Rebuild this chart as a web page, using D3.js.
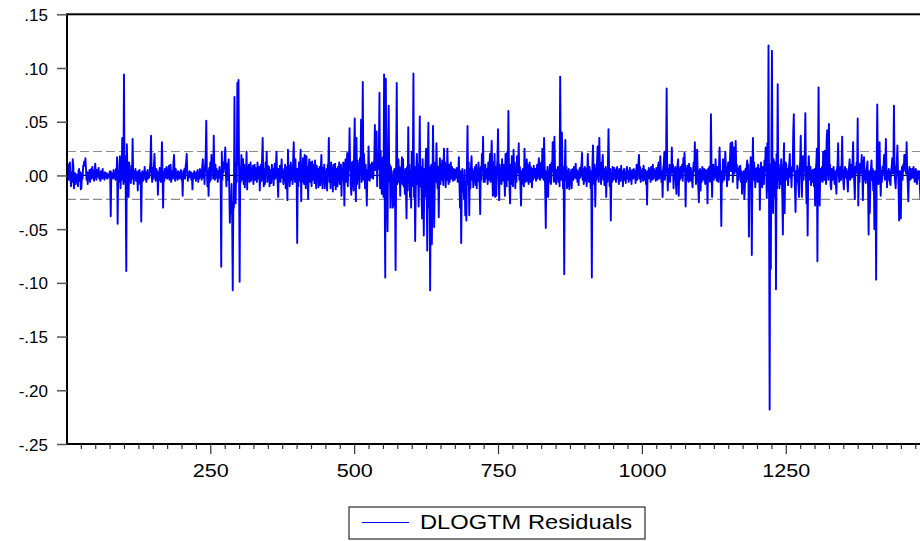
<!DOCTYPE html>
<html>
<head>
<meta charset="utf-8">
<script src="https://cdn.jsdelivr.net/npm/d3@7"></script>
<style>
  html, body { margin: 0; padding: 0; background: #fff; overflow: hidden; }
  text { font-family: "Liberation Sans", Arial, sans-serif; fill: #000; }
</style>
</head>
<body>
<svg id="chart" width="920" height="541"></svg>
<script>
// Regression residuals of DLOGTM, one value per observation (1 .. 1485)
const residuals = [
  .008,.011,.004,-.004,.007,.012,-.003,-.010,.003,-.006,.015,.009,-.012,-.004,.002,-.008,.001,-.002,.000,-.010,.004,.006,-.005,.003,-.013,
  -.012,.002,-.003,.008,.010,.013,.009,.016,.006,-.004,.003,-.008,.002,-.002,.005,-.006,.001,.006,-.003,.008,-.002,.004,-.005,.003,.011,
  .002,-.004,.005,-.001,.003,.007,-.003,.002,-.005,.004,.001,-.003,.006,-.002,.000,-.004,.003,-.001,-.002,.002,-.003,.001,-.002,-.001,.003,
  .004,-.038,.003,-.002,.001,-.003,.005,-.001,.002,-.004,.006,-.002,.017,-.045,.004,-.006,.010,.018,-.012,.008,-.004,.035,.012,-.008,.094,
  -.006,.018,-.012,-.089,.029,.006,-.010,-.020,.012,-.004,.004,-.007,.009,-.003,.034,.002,-.008,.004,-.002,.006,-.005,.003,.001,-.014,.004,
  -.002,.005,-.008,.002,-.043,-.003,.004,-.005,.002,-.001,.008,-.004,.003,-.006,.001,.005,-.003,.002,-.002,.006,.012,.037,.004,-.006,.007,
  -.003,.009,.020,.003,-.005,.006,-.002,.004,-.018,.002,-.004,.007,.000,-.006,.005,.031,.002,-.030,.003,-.005,.006,-.002,.004,.008,-.003,
  .005,-.002,.009,-.004,.003,.010,-.006,.004,.001,-.003,.012,.019,.003,-.005,.006,-.001,.002,-.004,.004,.000,-.003,.003,-.002,.005,-.004,
  .001,-.019,.004,-.002,.006,-.003,.008,.012,.020,.003,-.005,.002,-.002,.004,-.001,.003,-.004,.002,-.013,.001,-.003,.004,-.002,.002,-.005,
  .003,-.002,.005,-.006,.002,-.003,.006,-.001,.004,-.004,.008,.015,-.002,.005,-.008,.010,.018,.051,.006,-.010,.004,-.019,.007,-.006,.012,
  -.004,.019,.008,.015,-.003,.037,.006,-.004,.010,-.002,.006,.003,-.006,.004,-.002,.008,.002,-.005,-.085,.022,-.004,.012,.003,.010,.015,
  .026,.004,-.010,.011,-.004,.006,.015,-.012,-.044,-.020,-.035,-.008,-.038,-.107,-.025,-.030,.073,-.010,-.026,.012,-.006,.086,.010,.089,.004,
  -.099,.008,-.006,.019,.011,-.004,.015,-.008,.010,-.011,.006,-.003,.022,-.013,.008,-.002,.010,-.006,.004,.012,-.005,.006,-.003,.009,-.008,
  .004,.010,-.004,.007,.002,-.006,.012,.005,-.003,.008,-.014,.003,.010,-.005,.015,.035,.001,-.010,.006,-.008,.012,.004,.022,-.006,.009,
  -.004,.008,-.010,.005,.001,-.007,.010,-.002,.006,-.009,.004,.011,-.003,.008,.022,.002,-.005,-.020,.006,-.003,.009,-.006,.004,.015,-.002,
  .006,-.008,.003,-.005,.010,-.012,.004,.008,-.023,.024,-.006,.009,-.010,.003,.012,-.004,.006,-.008,.014,.031,.002,-.006,.015,-.004,.006,
  -.063,.006,-.010,.012,-.005,.008,.024,-.024,.010,-.006,.016,.004,-.008,.019,.002,-.012,.018,-.004,.008,-.022,.006,.015,-.006,.012,.003,
  -.010,.013,.002,-.004,.010,-.007,.014,.003,-.012,.009,-.002,.006,-.011,.004,.008,-.009,.005,.019,.002,-.012,.007,-.004,.010,-.012,.004,
  -.008,.006,-.014,.010,.004,.035,-.006,.009,-.012,.012,-.004,.007,-.015,.010,.003,-.009,.011,-.013,.006,.001,-.010,.008,-.005,.012,-.008,
  .004,.010,-.019,.006,-.004,.012,.003,-.028,.008,.015,-.006,.010,.021,-.010,.014,.006,.044,.010,-.008,-.018,.012,-.010,.013,-.014,.025,
  .053,.004,-.024,.035,-.008,.014,-.004,.010,-.012,.016,.002,.052,-.006,.020,.087,-.004,.020,.008,-.012,.010,-.006,-.028,.005,-.004,.027,
  .008,-.005,.010,.004,-.002,.012,.006,-.003,.008,.015,.047,.005,.020,.041,-.010,.018,.006,.025,.077,-.012,.023,.004,-.017,.010,.017,
  -.020,.094,-.010,-.095,.090,.012,-.015,-.052,.020,.065,-.006,.010,-.030,.008,-.012,-.005,-.030,.004,-.028,.006,-.015,-.088,.010,.086,-.008,
  .004,.015,-.006,.008,-.019,.006,-.004,.017,-.008,.015,-.010,.004,-.017,.006,-.012,-.040,.008,-.014,.045,-.006,.010,-.020,.004,-.030,.022,
  -.010,.012,.095,-.020,.008,-.061,-.015,.006,.020,-.008,.010,-.029,.004,.055,-.010,.008,-.016,-.040,.015,-.012,-.056,.006,-.020,.010,.025,
  -.010,-.070,.012,.049,-.030,.008,-.107,-.020,.010,-.064,-.015,.046,.005,-.048,-.010,.012,-.006,.030,.004,-.012,.008,-.039,.002,.016,-.008,
  .010,-.004,.014,.003,-.009,.025,.006,.012,-.011,.008,-.004,.025,.002,-.008,.010,-.006,.004,.012,-.003,.008,.001,-.005,.006,.003,-.004,
  .005,-.002,.007,.002,-.006,.004,.017,-.008,-.030,.004,-.063,-.010,.006,-.015,-.006,-.022,.005,-.037,-.010,-.042,.010,.046,-.008,.012,-.037,
  .006,-.012,.008,.018,-.004,.006,-.011,.003,-.006,.008,-.009,.010,-.012,.004,-.005,.012,.002,-.010,-.036,.008,-.004,.020,.006,.036,-.006,
  .004,-.006,.010,-.003,.005,.006,-.008,.012,-.004,.008,.020,-.006,.014,.032,.004,-.019,.012,-.018,.020,-.020,.008,-.019,.005,.015,.043,
  .004,-.023,.010,-.006,.003,-.008,.015,-.005,.006,.010,-.002,-.019,.020,.006,-.010,.022,-.004,.060,.008,-.012,-.026,.010,-.008,.018,.004,
  -.010,.024,.002,.012,-.012,.006,-.006,.018,.003,.010,.030,-.004,.008,-.012,-.028,.004,-.008,.006,.005,-.010,.025,.002,-.006,.008,.015,
  -.005,.010,-.008,.004,.012,-.006,.008,.001,-.011,.006,-.004,.009,-.002,.003,.006,-.005,.004,.010,-.003,.007,.016,.002,-.004,.008,.012,
  -.002,.025,.006,-.004,.035,.010,-.015,-.049,.004,-.012,.008,-.020,.003,-.006,.010,.008,-.008,.012,.004,.031,.006,-.006,.036,.008,-.004,
  -.008,.005,-.003,.008,-.006,.004,-.010,.092,.010,-.004,.040,.004,-.012,.008,-.092,.006,.033,-.004,.008,-.012,.004,-.010,.006,-.013,.002,
  -.008,.005,-.012,.003,.006,-.004,.008,-.002,.004,.011,-.003,.005,-.006,.003,-.009,.004,.007,-.002,.005,.010,.021,-.004,.006,-.008,.004,
  .008,-.005,.006,-.010,.004,.020,.003,-.006,.008,.002,-.012,.004,-.095,.010,.028,.002,-.008,.010,-.029,.006,-.004,.012,.027,.003,-.006,
  .035,.006,.012,-.008,.004,.010,.019,-.004,.006,-.009,.003,.008,-.020,.004,-.006,.012,.043,.004,-.010,.006,-.042,.002,-.006,.008,.003,
  -.004,.007,-.002,.005,-.006,.003,.008,-.003,.004,-.008,.006,.001,-.005,.009,-.002,.004,-.010,.003,.006,-.004,.002,-.007,.005,.008,-.003,
  .004,-.006,.002,.007,-.004,.003,-.008,.005,.001,-.003,.006,-.002,.004,-.007,.003,.010,-.004,.006,.012,.019,-.003,.008,-.006,.004,-.002,
  .006,-.005,.009,.002,-.004,.005,-.008,.003,-.027,.004,-.003,.007,-.002,.005,-.006,.008,.002,-.004,.010,-.003,.006,-.001,.004,-.005,.007,
  .002,-.004,.008,.012,-.003,.006,.018,.002,-.006,.004,-.020,.006,.010,.022,-.004,.005,.012,.081,.004,-.014,.006,-.004,.010,-.006,.008,
  .002,.026,.004,.010,-.012,.006,-.004,.008,-.006,-.017,.004,.010,.015,-.019,.006,-.004,.008,-.002,.005,.010,-.005,.016,.004,.021,.008,
  -.029,.006,-.004,.009,.002,-.006,.011,.003,-.005,.007,.001,-.004,-.011,.005,.012,.004,.031,.006,-.008,.010,.024,.002,-.010,-.025,.004,
  .006,-.014,.004,-.006,.008,.002,-.004,.006,.003,-.008,.005,-.003,.004,-.026,.006,-.005,.008,.004,-.006,.057,.004,-.020,.006,.010,-.004,
  .005,-.002,.015,.004,-.005,.008,.002,-.006,.010,.026,.006,-.008,-.047,.004,-.006,.015,.003,-.004,.010,.022,.006,.002,-.010,.006,.012,
  -.004,.008,.014,.030,.004,.010,.031,-.006,.012,.026,.002,.008,.032,.004,.010,-.012,.006,-.004,.008,.002,.009,-.006,.004,-.017,.002,
  -.008,.004,-.022,-.010,.006,-.006,.008,.014,-.004,.010,-.057,.004,-.012,.017,.002,-.074,.006,.035,-.004,.012,.004,-.011,.006,-.004,.007,
  -.006,.010,-.004,.006,-.032,.004,.012,-.006,-.011,.008,.003,-.008,.014,.004,.026,.006,-.021,.030,-.015,.121,-.030,-.218,.010,-.087,.020,
  .116,-.010,-.035,.015,.010,-.020,.012,-.106,.020,-.012,.085,-.004,.010,-.012,.006,-.008,.015,.004,-.020,-.055,.008,.030,-.035,.004,.012,
  .009,-.004,.006,-.009,.004,.010,.020,-.002,.006,-.011,.008,.004,.040,.057,.006,-.012,-.034,.004,-.006,.009,.002,-.010,-.020,.006,.012,
  .037,.004,-.020,.006,.018,-.004,.010,.020,.058,.004,-.026,.008,-.056,.002,.018,.006,-.004,.008,-.009,.004,-.006,.005,.002,-.010,.006,
  -.028,.004,.010,.025,-.080,.010,.082,.004,-.028,.006,-.004,-.005,.008,-.006,.022,.002,-.004,.023,.004,-.008,.032,.042,.006,-.004,.048,
  .004,.010,-.010,-.013,.006,-.004,.002,.008,-.002,-.008,.004,-.006,-.017,.006,.010,.030,.002,-.006,.003,.008,-.004,.010,.036,.004,-.006,
  -.013,.004,.008,-.002,.006,.002,-.006,-.015,.004,.008,.015,-.004,.006,.010,-.002,.012,.031,.004,-.006,-.022,.008,.002,.012,.006,.053,
  -.028,.004,-.006,.011,.002,.008,.019,.004,-.023,.006,.017,.002,-.004,-.007,.004,.008,.013,-.010,-.055,.004,-.035,-.008,.006,.014,-.004,
  .006,-.014,.004,-.050,-.020,.004,-.097,.010,.066,.004,-.008,.010,.031,.002,-.019,.004,-.006,.008,.002,.010,.019,-.004,.012,.034,.004,
  -.011,.004,-.004,.006,.002,-.006,-.009,.004,.008,.016,.002,.010,.065,.004,-.006,-.012,.006,.012,.028,.004,-.010,-.042,.004,-.006,-.040,
  .002,.008,-.004,.010,.004,.019,.006,.019,.002,.031,.004,-.008,-.024,.002,.008,-.004,.006,-.003,.002,.006,-.002,.008,.002,-.006,.003,
  .006,-.004,-.008,.004,.002,-.003,.004,-.010,-.022,-.012
];

// Y axis ticks and their printed labels
const yTickValues = [0.15, 0.10, 0.05, 0.00, -0.05, -0.10, -0.15, -0.20, -0.25];
const yTickLabels = [".15", ".10", ".05", ".00", "-.05", "-.10", "-.15", "-.20", "-.25"];
// X axis: labelled observations and the minor tick step
const xTickValues = [250, 500, 750, 1000, 1250];
const xMinorStep = 25;
// One standard error of the regression, drawn as a dashed band around zero
const seBand = 0.0223;
const seriesName = "DLOGTM Residuals";

const svg = d3.select("#chart");
const plot = { left: 67, right: 921, top: 14.3, bottom: 444 };

const x = d3.scaleLinear().domain([1, residuals.length]).range([plot.left, plot.right]);
const y = d3.scaleLinear().domain([-0.25, 0.15]).range([plot.bottom, plot.top]);

// Reference lines: zero and +/- one standard error
svg.append("line")
  .attr("x1", plot.left).attr("x2", plot.right)
  .attr("y1", y(0)).attr("y2", y(0))
  .attr("stroke", "#000").attr("stroke-width", 1.2);

[seBand, -seBand].forEach(v => {
  svg.append("line")
    .attr("x1", plot.left).attr("x2", plot.right)
    .attr("y1", y(v)).attr("y2", y(v))
    .attr("stroke", "#8c8c8c").attr("stroke-width", 1.2)
    .attr("stroke-dasharray", "9,4");
});

// Residual series
const line = d3.line()
  .x((d, i) => x(i + 1))
  .y(d => y(d));

svg.append("path")
  .datum(residuals)
  .attr("fill", "none")
  .attr("stroke", "#0000ff")
  .attr("stroke-width", 1.9)
  .attr("stroke-linejoin", "round")
  .attr("d", line);

// Frame (right edge falls just outside the canvas)
svg.append("rect")
  .attr("x", plot.left).attr("y", plot.top)
  .attr("width", plot.right - plot.left).attr("height", plot.bottom - plot.top)
  .attr("fill", "none").attr("stroke", "#000").attr("stroke-width", 2);

// Y axis
const yAxis = d3.axisLeft(y)
  .tickValues(yTickValues)
  .tickFormat((d, i) => yTickLabels[i])
  .tickSize(10)
  .tickPadding(0);

const gy = svg.append("g")
  .attr("transform", `translate(${plot.left},0)`)
  .call(yAxis);
gy.select(".domain").remove();
gy.selectAll(".tick line").attr("stroke", "#555").attr("stroke-width", 1.5);
gy.selectAll(".tick text")
  .attr("x", -19).attr("dy", null).attr("y", 6)
  .attr("text-anchor", "end")
  .style("font-size", "17px");

// X axis: minor ticks every 25 observations, labelled ticks every 250
const minorTicks = d3.range(xMinorStep, residuals.length, xMinorStep)
  .filter(v => !xTickValues.includes(v));

const gxMinor = svg.append("g")
  .attr("transform", `translate(0,${plot.bottom})`)
  .call(d3.axisBottom(x).tickValues(minorTicks).tickSize(5).tickFormat(""));
gxMinor.select(".domain").remove();
gxMinor.selectAll(".tick line").attr("stroke", "#333").attr("stroke-width", 1.2);

const gxMajor = svg.append("g")
  .attr("transform", `translate(0,${plot.bottom})`)
  .call(d3.axisBottom(x).tickValues(xTickValues).tickSize(10).tickFormat(d3.format("d")));
gxMajor.select(".domain").remove();
gxMajor.selectAll(".tick line").attr("stroke", "#333").attr("stroke-width", 1.2);
gxMajor.selectAll(".tick text")
  .attr("y", null).attr("dy", null)
  .attr("text-anchor", "middle")
  .style("font-size", "18px")
  .attr("transform", "translate(0,33) scale(1.2,1)");

// Legend
const legend = svg.append("g");
legend.append("rect")
  .attr("x", 349).attr("y", 507).attr("width", 296).attr("height", 32)
  .attr("fill", "#fff").attr("stroke", "#000").attr("stroke-width", 1);
legend.append("line")
  .attr("x1", 362).attr("x2", 409).attr("y1", 522.5).attr("y2", 522.5)
  .attr("stroke", "#0000ff").attr("stroke-width", 1.2);
legend.append("text")
  .attr("x", 420).attr("y", 528.5)
  .style("font-size", "21px")
  .attr("textLength", 212)
  .attr("lengthAdjust", "spacingAndGlyphs")
  .text(seriesName);
</script>
</body>
</html>
